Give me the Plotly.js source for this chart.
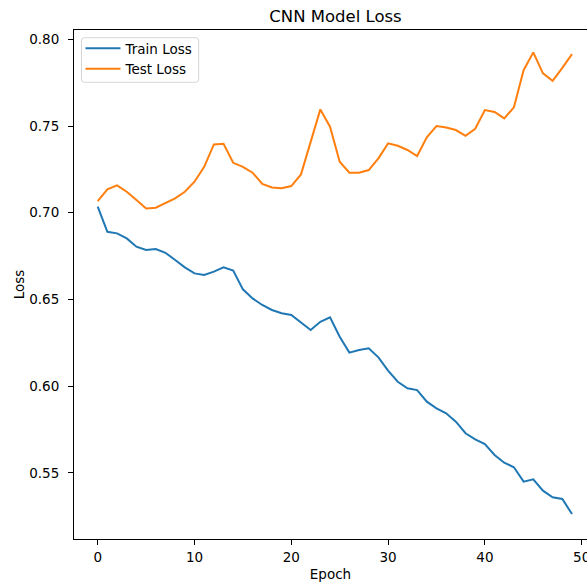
<!DOCTYPE html>
<html>
<head>
<meta charset="utf-8">
<script src="https://cdn.plot.ly/plotly-3.0.1.min.js"></script>
<style>html,body{margin:0;padding:0;background:#fff;overflow:hidden}#chart{width:587px;height:584px}</style>
</head>
<body>
<div id="chart"></div>
<script>
const epochs = Array.from({length: 50}, (_, i) => i);
const trainLoss = [0.7035, 0.6890, 0.6881, 0.6852, 0.6804, 0.6785, 0.6791, 0.6769, 0.6727, 0.6685,
  0.6650, 0.6641, 0.6660, 0.6685, 0.6666, 0.6558, 0.6506, 0.6468, 0.6439, 0.6420,
  0.6410, 0.6366, 0.6324, 0.6371, 0.6397, 0.6285, 0.6193, 0.6208, 0.6218, 0.6166,
  0.6089, 0.6025, 0.5987, 0.5977, 0.5910, 0.5872, 0.5843, 0.5795, 0.5728, 0.5693,
  0.5666, 0.5603, 0.5558, 0.5532, 0.5449, 0.5462, 0.5397, 0.5359, 0.5349, 0.5262];
const testLoss = [0.7067, 0.7135, 0.7158, 0.7121, 0.7073, 0.7025, 0.7029, 0.7058, 0.7083, 0.7121,
  0.7179, 0.7265, 0.7394, 0.7398, 0.7288, 0.7265, 0.7231, 0.7166, 0.7146, 0.7141,
  0.7154, 0.7221, 0.7410, 0.7596, 0.7496, 0.7294, 0.7231, 0.7231, 0.7246, 0.7314,
  0.7400, 0.7386, 0.7362, 0.7327, 0.7435, 0.7500, 0.7492, 0.7477, 0.7444, 0.7484,
  0.7592, 0.7581, 0.7544, 0.7608, 0.7822, 0.7925, 0.7804, 0.7761, 0.7836, 0.7915];
const xTicks = [0, 10, 20, 30, 40, 50];
const yTicks = [0.55, 0.60, 0.65, 0.70, 0.75, 0.80];

const W = 587, H = 584, ML = 73.5, MR = 0, MT = 30, MB = 45;
const pw = W - ML - MR, ph = H - MT - MB;
const px = v => (v - ML) / pw;          // pixel -> paper x
const py = v => (H - MB - v) / ph;      // pixel -> paper y

const font = {family: 'DejaVu Sans, sans-serif', size: 13.5, color: '#000'};
const data = [
  {x: epochs, y: trainLoss, type: 'scatter', mode: 'lines', name: 'Train Loss',
   line: {color: '#1f77b4', width: 2}},
  {x: epochs, y: testLoss, type: 'scatter', mode: 'lines', name: 'Test Loss',
   line: {color: '#ff7f0e', width: 2}}
];

// legend frame (rounded rectangle)
const x0 = px(81), x1 = px(198.3), y0 = py(82.3), y1 = py(37.7);
const r = 0.006;
const ry = r * pw / ph;
const framePath = `M${x0 + r},${y1} L${x1 - r},${y1} Q${x1},${y1} ${x1},${y1 - ry} L${x1},${y0 + ry} Q${x1},${y0} ${x1 - r},${y0} L${x0 + r},${y0} Q${x0},${y0} ${x0},${y0 + ry} L${x0},${y1 - ry} Q${x0},${y1} ${x0 + r},${y1} Z`;

const layout = {
  width: W, height: H,
  margin: {l: ML, r: MR, t: MT, b: MB},
  paper_bgcolor: '#fff', plot_bgcolor: '#fff',
  font: font,
  title: {text: 'CNN Model Loss', font: {family: font.family, size: 16.5, color: '#000'},
          x: 335.5 / W, xanchor: 'center', y: 1 - 16 / H, yanchor: 'middle'},
  xaxis: {
    range: [-2.45, 50.55], tickvals: xTicks, ticktext: xTicks.map(String),
    showgrid: false, zeroline: false, showline: true, linecolor: '#000', linewidth: 1,
    mirror: true, ticks: 'outside', ticklen: 5, tickwidth: 1, tickcolor: '#000',
    tickfont: font, ticklabeloverflow: 'allow', ticklabelstandoff: 1,
    title: {text: 'Epoch', font: font, standoff: 5}
  },
  yaxis: {
    range: [0.5118, 0.8054], tickvals: yTicks, ticktext: yTicks.map(v => v.toFixed(2)),
    showgrid: false, zeroline: false, showline: true, linecolor: '#000', linewidth: 1,
    mirror: false, ticks: 'outside', ticklen: 5, tickwidth: 1, tickcolor: '#000',
    tickfont: font, ticklabelstandoff: 6,
    title: {text: 'Loss', font: font, standoff: 1}
  },
  shapes: [{type: 'path', xref: 'paper', yref: 'paper', path: framePath,
            line: {color: '#d5d5d5', width: 1}, fillcolor: 'rgba(255,255,255,0.8)', layer: 'below'}],
  showlegend: true,
  legend: {x: px(80), y: py(33), xanchor: 'left', yanchor: 'top',
           bgcolor: 'rgba(0,0,0,0)', borderwidth: 0, itemwidth: 35,
           font: font, tracegroupgap: 0}
};
Plotly.newPlot('chart', data, layout, {displayModeBar: false, staticPlot: true});
</script>
</body>
</html>
